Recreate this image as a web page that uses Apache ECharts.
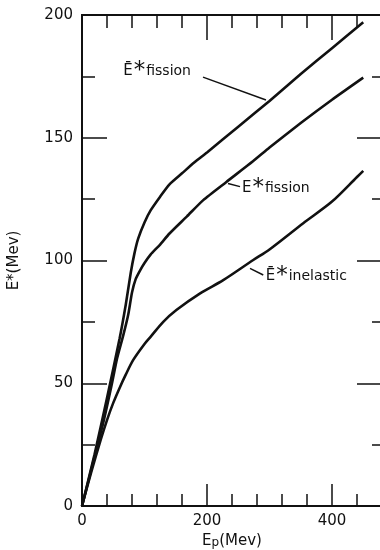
<!DOCTYPE html>
<html>
<head>
<meta charset="utf-8">
<script src="https://cdn.jsdelivr.net/npm/echarts@6/dist/echarts.min.js"></script>
<style>
html,body{margin:0;padding:0;background:#fff;}
#main{width:380px;height:550px;}
</style>
</head>
<body>
<div id="main"></div>
<script>
// E_p (Mev) and E* (Mev)
var epMeanFission = [0, 20, 40, 60, 70, 78, 84, 90, 100, 110, 125, 140, 160, 180, 200, 250, 300, 350, 400, 450];
var eMeanFission  = [0, 21, 44, 68, 82, 95, 103, 109, 115.5, 120.5, 126, 131, 135.5, 140, 144, 154.5, 165, 176, 186.5, 197];

var epFission = [0, 20, 35, 48, 56, 66, 74, 80, 86, 93, 100, 110, 125, 140, 168, 194, 231, 274, 300, 350, 400, 450];
var eFission  = [0, 20, 35, 50, 60, 69.5, 78, 87, 92.5, 96, 99, 102.5, 106.5, 111, 118, 124.6, 132, 140.5, 146, 156, 165.5, 174.5];

var epInelastic = [0, 15, 30, 40, 50, 60, 70, 82, 100, 110, 130, 151, 189, 226, 274, 300, 354, 400, 440, 450];
var eInelastic  = [0, 14, 27, 35, 42, 48, 53.5, 59.5, 66, 69, 75, 79.8, 86.6, 92, 100.2, 104.5, 115.2, 124, 134, 136.5];

var xTicksMajor = 200;
var xTicksMinor = 40;
var yTicksMajor = 50;

function pairs(xs, ys) {
    var out = [];
    for (var i = 0; i < xs.length; i++) out.push([xs[i], ys[i]]);
    return out;
}

var ink = '#111';
var font = 'DejaVu Sans';

var labelRich = {
    e: { fontSize: 15, fontFamily: font, color: ink },
    s: { fontSize: 23, fontFamily: font, color: ink, verticalAlign: 'top', padding: [0, 1, 0, 1] },
    t: { fontSize: 14, fontFamily: font, color: ink }
};

function note(text, at) {
    return {
        coord: at,
        symbol: 'circle',
        symbolSize: 0,
        label: { show: true, position: 'right', distance: 0, formatter: text, rich: labelRich }
    };
}

function leader(a, b) {
    return [{ coord: a }, { coord: b }];
}

function xAx(pos, interval, len, withLabels) {
    return {
        type: 'value', position: pos, min: 0, max: 480, interval: interval,
        axisLine: { show: true, onZero: false, lineStyle: { color: ink, width: 2 } },
        axisTick: { show: true, inside: true, length: len, lineStyle: { color: ink, width: 1.5 } },
        axisLabel: { show: withLabels, showMaxLabel: false, fontSize: 15, fontFamily: font, color: ink, margin: 8 },
        splitLine: { show: false }
    };
}

function yAx(pos, longLen, shortLen, withLabels) {
    return {
        type: 'value', position: pos, min: 0, max: 200, interval: yTicksMajor,
        axisLine: { show: true, onZero: false, lineStyle: { color: ink, width: 2 } },
        axisTick: { show: true, inside: true, length: longLen, lineStyle: { color: ink, width: 1.5 } },
        minorTick: { show: true, splitNumber: 2, length: shortLen, lineStyle: { color: ink, width: 1.5 } },
        axisLabel: { show: withLabels, fontSize: 15, fontFamily: font, color: ink, margin: 9 },
        splitLine: { show: false }
    };
}

var chart = echarts.init(document.getElementById('main'));

var xBottom = xAx('bottom', xTicksMajor, 22, true);
xBottom.name = '{e|E}{p|p}{m|(Mev)}';
xBottom.nameLocation = 'middle';
xBottom.nameGap = 26;
xBottom.nameTextStyle = {
    rich: {
        e: { fontSize: 15, fontFamily: font, color: ink, verticalAlign: 'top' },
        p: { fontSize: 12, fontFamily: font, color: ink, verticalAlign: 'bottom' },
        m: { fontSize: 15, fontFamily: font, color: ink, verticalAlign: 'top' }
    }
};

var yLeft = yAx('left', 25, 13, true);
yLeft.name = 'E*(Mev)';
yLeft.nameLocation = 'middle';
yLeft.nameGap = 60;
yLeft.nameTextStyle = { fontSize: 15, fontFamily: font, color: ink };

var lineStyle = { color: ink, width: 2.6 };

option = {
    animation: false,
    backgroundColor: '#fff',
    grid: { left: 82, right: -2, top: 15, bottom: 44, outerBoundsMode: 'none', containLabel: false },
    xAxis: [
        xBottom,
        xAx('bottom', xTicksMinor, 12, false),
        xAx('top', xTicksMajor, 25, false),
        xAx('top', xTicksMinor, 13, false)
    ],
    yAxis: [
        yLeft,
        yAx('right', 25, 10, false)
    ],
    series: [
        {
            name: 'mean fission', type: 'line', smooth: 0.2, showSymbol: false,
            xAxisIndex: 0, yAxisIndex: 0,
            data: pairs(epMeanFission, eMeanFission),
            lineStyle: lineStyle,
            markPoint: {
                silent: true,
                data: [
                    note('{e|Ē}{s|*}{t|fission}', [66, 177]),
                    note('{e|E}{s|*}{t|fission}', [256, 129.5]),
                    note('{e|Ē}{s|*}{t|inelastic}', [294, 93.5])
                ]
            },
            markLine: {
                silent: true,
                symbol: ['none', 'none'],
                label: { show: false },
                lineStyle: { color: ink, width: 1.5, type: 'solid' },
                data: [
                    leader([193.6, 174.7], [294.4, 165.4]),
                    leader([233.6, 131.4], [252.8, 130.1]),
                    leader([268.8, 96.8], [290, 94.1])
                ]
            }
        },
        {
            name: 'fission', type: 'line', smooth: 0.2, showSymbol: false,
            xAxisIndex: 0, yAxisIndex: 0,
            data: pairs(epFission, eFission),
            lineStyle: lineStyle
        },
        {
            name: 'inelastic', type: 'line', smooth: 0.3, showSymbol: false,
            xAxisIndex: 0, yAxisIndex: 0,
            data: pairs(epInelastic, eInelastic),
            lineStyle: lineStyle
        }
    ]
};
chart.setOption(option);
</script>
</body>
</html>
